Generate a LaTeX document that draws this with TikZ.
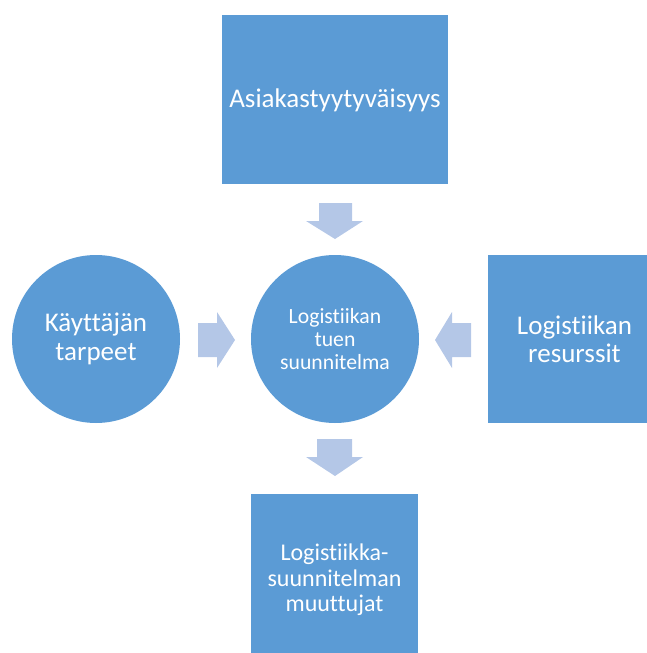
\documentclass[tikz,border=0pt]{standalone}
\usepackage{fontspec}
\setmainfont{Carlito}[Ligatures={NoCommon,NoRare,NoContextual}]
\definecolor{boxblue}{HTML}{5B9BD5}
\definecolor{arrowblue}{HTML}{B4C7E7}
\begin{document}
\begin{tikzpicture}[x=1pt,y=-1pt,
  blockfill/.style={fill=boxblue,draw=none},
  label/.style={text=white,align=center,inner sep=0pt},
  big/.style={font=\fontsize{27}{28.5}\selectfont},
  mid/.style={font=\fontsize{24}{25.5}\selectfont},
  small/.style={font=\fontsize{21.7}{23.3}\selectfont},
  flow/.style={fill=arrowblue,draw=none}]
\useasboundingbox (0,0) rectangle (647,653);
% boxes and circles
\fill[blockfill] (222,15) rectangle (448,184);
\node[label,big] (sat) at (335,100) {Asiakastyytyväisyys};
\fill[blockfill] (96,339) circle (84);
\node[label,big] (need) at (96,339) {Käyttäjän\\tarpeet};
\fill[blockfill] (335,339) circle (84);
\node[label,small] (plan) at (335,339) {Logistiikan\\tuen\\suunnitelma};
\fill[blockfill] (488,255) rectangle (647,423);
\node[label,big] (res) at (574.5,339) {Logistiikan\\resurssit};
\fill[blockfill] (251,494) rectangle (418,653);
\node[label,mid] (var) at (334.5,580) {Logistiikka-\\suunnitelman\\muuttujat};
% block arrows
\fill[flow] (319,203) -- (352,203) -- (352,221) -- (363,221) -- (335,239) -- (306,221) -- (319,221) -- cycle;
\fill[flow] (198,323) -- (217,323) -- (217,312) -- (235,340) -- (217,368) -- (217,357) -- (198,357) -- cycle;
\fill[flow] (471,323) -- (452,323) -- (452,312) -- (435,340) -- (452,368) -- (452,357) -- (471,357) -- cycle;
\fill[flow] (317,439) -- (352,439) -- (352,457) -- (363,457) -- (335,476) -- (306,457) -- (317,457) -- cycle;
\end{tikzpicture}
\end{document}
